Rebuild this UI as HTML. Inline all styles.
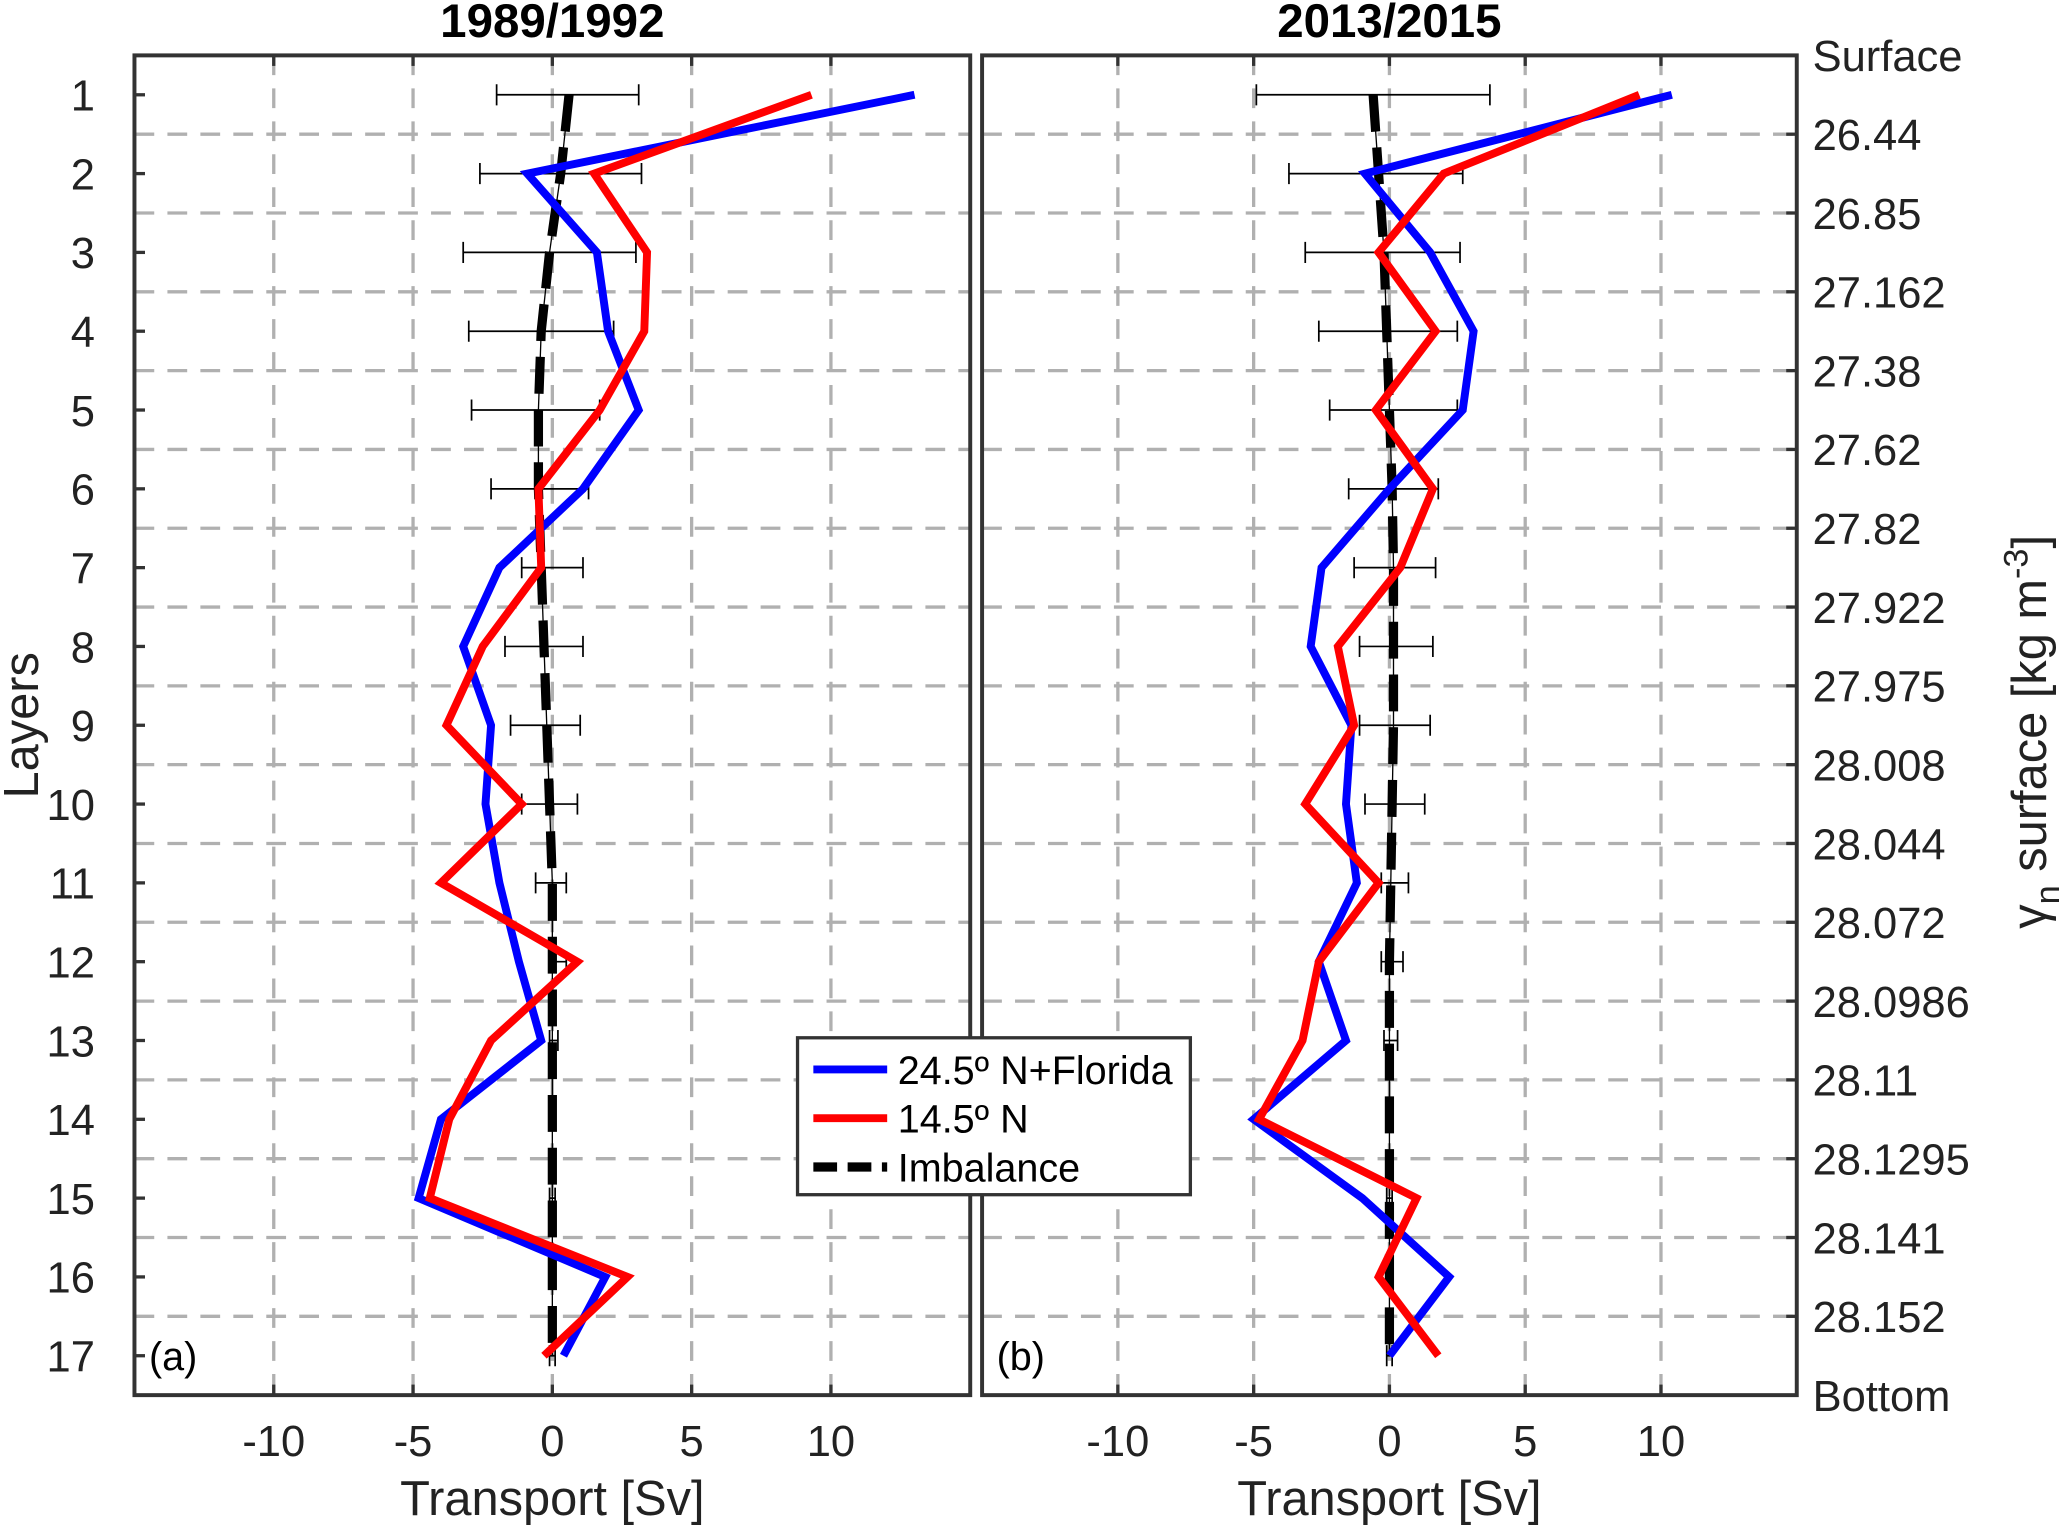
<!DOCTYPE html>
<html><head><meta charset="utf-8"><style>
html,body{margin:0;padding:0;background:#fff;}
svg{display:block;font-family:"Liberation Sans",Arial,sans-serif;}
</style></head><body>
<svg id="chart" width="2067" height="1527" viewBox="0 0 1568 1158" preserveAspectRatio="none" xmlns="http://www.w3.org/2000/svg"></svg>
<script>
const layers=[1,2,3,4,5,6,7,8,9,10,11,12,13,14,15,16,17];
const xTicks=[-10,-5,0,5,10];
const densityLabels=["Surface","26.44","26.85","27.162","27.38","27.62","27.82","27.922","27.975","28.008","28.044","28.072","28.0986","28.11","28.1295","28.141","28.152","Bottom"];
const blueA=[13,-0.9,1.6,2.0,3.1,1.1,-1.9,-3.2,-2.2,-2.4,-1.9,-1.2,-0.4,-4.0,-4.8,1.9,0.4];
const redA=[9.3,1.5,3.4,3.3,1.7,-0.5,-0.4,-2.5,-3.8,-1.1,-4.0,0.9,-2.2,-3.7,-4.4,2.7,-0.3];
const imbA=[0.6,0.3,-0.1,-0.4,-0.5,-0.5,-0.4,-0.3,-0.2,-0.1,0,0,0,0,0,0,0];
const errLoA=[-2,-2.6,-3.2,-3.0,-2.9,-2.2,-1.1,-1.7,-1.5,-1.1,-0.6,-0.1,-0.1,-0.1,-0.1,-0.1,-0.1];
const errHiA=[3.1,3.2,3.0,2.2,1.7,1.3,1.1,1.1,1.0,0.9,0.5,0.5,0.2,0.1,0.1,0.1,0.1];
const blueB=[10.4,-0.9,1.5,3.1,2.7,0,-2.5,-2.9,-1.4,-1.6,-1.2,-2.6,-1.6,-5.0,-1.0,2.2,0];
const redB=[9.2,2.0,-0.4,1.7,-0.5,1.6,0.4,-1.9,-1.3,-3.1,-0.4,-2.6,-3.2,-4.8,1.0,-0.4,1.8];
const imbB=[-0.6,-0.4,-0.2,-0.1,0,0.1,0.15,0.15,0.15,0.1,0.05,0,0,0,0,0,0];
const errLoB=[-4.9,-3.7,-3.1,-2.6,-2.2,-1.5,-1.3,-1.1,-1.1,-0.9,-0.3,-0.3,-0.2,-0.1,-0.1,-0.1,-0.1];
const errHiB=[3.7,2.7,2.6,2.5,2.5,1.8,1.7,1.6,1.5,1.3,0.7,0.5,0.3,0.1,0.1,0.1,0.1];

const svg=document.getElementById('chart');
const NS='http://www.w3.org/2000/svg';
function mk(tag,attrs,parent){const e=document.createElementNS(NS,tag);for(const k in attrs)e.setAttribute(k,attrs[k]);(parent||svg).appendChild(e);return e;}
const yTop=42,yBot=1058;
function yScale(l){return yTop+(l-0.5)*(yBot-yTop)/17;}

function panel(name,x0,x1,title,tag,blue,red,imb,lo,hi){
  const g=mk('g',{});
  
  
  const xs=v=>x0+(v+15)*(x1-x0)/30;
  for(let i=1;i<17;i++){const y=yScale(i+0.5);
    const l=mk('line',{x1:x0,x2:x1,y1:y,y2:y,stroke:'#b0b0b0','stroke-width':2.5,'stroke-dasharray':'15,10'},g);
    
    }
  xTicks.forEach(t=>{const x=xs(t);
    const l=mk('line',{x1:x,x2:x,y1:yTop,y2:yBot,stroke:'#b0b0b0','stroke-width':2.5,'stroke-dasharray':'15,10'},g);
    
    
    mk('line',{x1:x,x2:x,y1:yBot,y2:yBot-8,stroke:'#333','stroke-width':2.5},g);
    mk('line',{x1:x,x2:x,y1:yTop,y2:yTop+8,stroke:'#333','stroke-width':2.5},g);
    const tx=mk('text',{x:x,y:1104,'font-size':33,'text-anchor':'middle',fill:'#222'},g);tx.textContent=t;
    
    
  });
  const thin=layers.map((l,i)=>xs(imb[i])+','+yScale(l)).join(' ');
  mk('polyline',{points:thin,fill:'none',stroke:'#000','stroke-width':1},g);
  layers.forEach((l,i)=>{const y=yScale(l);const a=xs(lo[i]),b=xs(hi[i]);
    const e=mk('path',{d:`M${a},${y}H${b}M${a},${y-8}V${y+8}M${b},${y-8}V${y+8}`,stroke:'#000','stroke-width':1.3,fill:'none'},g);
    
    });
  const pl=(arr,col,w,dash,nm)=>{const p=mk('polyline',{points:layers.map((l,i)=>xs(arr[i])+','+yScale(l)).join(' '),fill:'none',stroke:col,'stroke-width':w,'stroke-linejoin':'miter','stroke-dasharray':dash||'none'},g);
    
    };
  pl(imb,'#000',7,'28,12','imbalance-line');
  pl(blue,'#0000ff',6,null,'line-24n-florida');
  pl(red,'#ff0000',6,null,'line-14n');
  const fr=mk('rect',{x:x0,y:yTop,width:x1-x0,height:yBot-yTop,fill:'none',stroke:'#333','stroke-width':3},g);
  
  
  const tt=mk('text',{x:(x0+x1)/2,y:28,'font-size':36,'font-weight':'bold','text-anchor':'middle',fill:'#000'},g);tt.textContent=title;
  
  
  const tg=mk('text',{x:x0+11,y:1039,'font-size':30,fill:'#000'},g);tg.textContent=tag;
  
  
  const xl=mk('text',{x:(x0+x1)/2,y:1149,'font-size':37,'text-anchor':'middle',fill:'#222'},g);xl.textContent='Transport [Sv]';
  
  
}
panel('panel-a',102,736,'1989/1992','(a)',blueA,redA,imbA,errLoA,errHiA);
panel('panel-b',745,1363,'2013/2015','(b)',blueB,redB,imbB,errLoB,errHiB);
layers.forEach(l=>{const y=yScale(l);
  mk('line',{x1:102,x2:110,y1:y,y2:y,stroke:'#333','stroke-width':2.5});
  const t=mk('text',{x:72,y:y+12,'font-size':33,'text-anchor':'end',fill:'#222'});t.textContent=l;
  
  });
densityLabels.forEach((s,i)=>{const y=yScale(i+0.5);
  mk('line',{x1:1363,x2:1355,y1:y,y2:y,stroke:'#333','stroke-width':2.5});
  const t=mk('text',{x:1375,y:y+12,'font-size':33,fill:'#222'});t.textContent=s;
  
  });
const yl=mk('text',{x:0,y:0,'font-size':37,'text-anchor':'middle',fill:'#222',transform:'translate(29,550) rotate(-90)'});yl.textContent='Layers';


const yr=mk('text',{x:0,y:0,'font-size':37,'text-anchor':'middle',fill:'#222',transform:'translate(1552,555) rotate(-90)'});
yr.innerHTML='γ<tspan dy="10" font-size="26">n</tspan><tspan dy="-10"> surface [kg m</tspan><tspan dy="-14" font-size="26">-3</tspan><tspan dy="14">]</tspan>';


const lg=mk('g',{});


mk('rect',{x:605,y:787,width:298,height:119,fill:'#fff',stroke:'#333','stroke-width':2.5},lg);
[['#0000ff','24.5º N+Florida',null],['#ff0000','14.5º N',null],['#000','Imbalance','18,8']].forEach((e,i)=>{
  const y=811+i*37;
  mk('line',{x1:617,x2:673,y1:y,y2:y,stroke:e[0],'stroke-width':i==2?7:6,'stroke-dasharray':e[2]||'none'},lg);
  const t=mk('text',{x:681,y:y+11,'font-size':30,fill:'#000'},lg);t.textContent=e[1];
  
  
});
</script>
</body></html>
